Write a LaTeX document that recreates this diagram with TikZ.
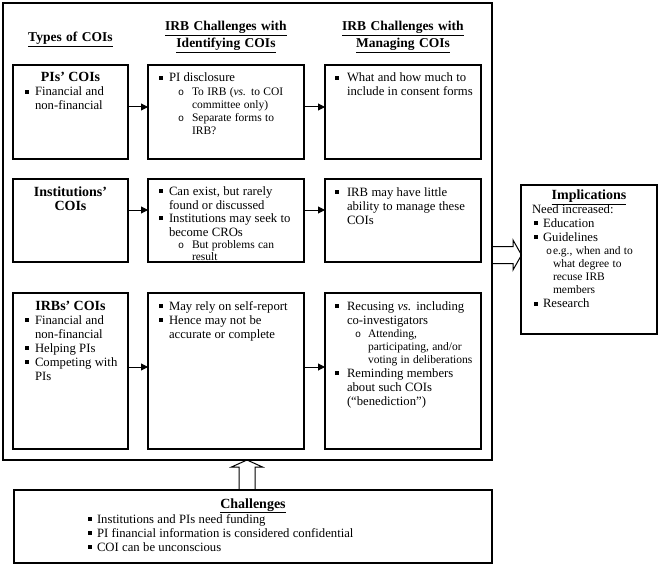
\documentclass[tikz,border=0pt]{standalone}
\usepackage{fontspec}
\setmainfont{Liberation Serif}
\newfontfamily\bulmono{Liberation Mono}
\usetikzlibrary{arrows.meta,backgrounds}
\hyphenpenalty=10000
\exhyphenpenalty=10000
\newlength\mbi \newlength\mti \newlength\mrs
\newlength\sbi \newlength\sti \newlength\srs
\newlength\mbs \newlength\sbs
\mbs=14pt \sbs=13.1pt
\newcommand\mfont{\fontsize{12.7pt}{\mbs}\selectfont}
\newcommand\sfont{\fontsize{11.5pt}{\sbs}\selectfont}
\newcommand\sqb{\rule[0.18em]{0.3em}{0.3em}}
\newcommand\cib{{\bulmono\fontsize{10pt}{10pt}\selectfont o}}
\newcommand\mitm[1]{{\mfont\hangindent=\mti\hangafter=1\rightskip=\the\mrs plus 1fil\relax\noindent\hbox to \mti{\hskip\mbi\sqb\hfil}#1\par}}
\newcommand\sitm[1]{{\sfont\hangindent=\sti\hangafter=1\rightskip=\the\srs plus 1fil\relax\noindent\hbox to \sti{\hskip\sbi\cib\hfil}#1\par}}
\newcommand\ttl[1]{{\centering\bfseries\fontsize{14pt}{14pt}\selectfont #1\par}}
\newcommand\setone{\mbi=12pt\mti=22pt\mrs=5pt}
\newcommand\settwo{\mbi=11pt\mti=21pt\mrs=6pt\sbi=30pt\sti=44pt\srs=10pt}
\newcommand\setthree{\mbi=10pt\mti=22pt\mrs=5pt\sbi=30pt\sti=43pt\srs=4pt}
\newcommand\setimpl{\mbi=13pt\mti=22pt\mrs=0pt\sbi=25pt\sti=32pt\srs=16pt}
\newcommand\setchal{\mbi=74pt\mti=83pt\mrs=0pt}
\begin{document}
\begin{tikzpicture}[x=1pt,y=-1pt,
  box/.style={draw, line width=1.2pt, inner sep=0pt, outer sep=0pt, anchor=north west},
  txt/.style={inner sep=0pt, outer sep=0pt, anchor=base west},
  hdr/.style={inner sep=0pt, anchor=base, text width=170pt, align=center, font=\bfseries\fontsize{13.5pt}{16.5pt}\selectfont},
  conn/.style={line width=1pt, -{Triangle[length=7pt,width=7pt]}},
  blk/.style={draw, fill=white, line width=1pt, line join=miter}
]
\useasboundingbox (0,0) rectangle (661,567);

\node[box, minimum width=489pt, minimum height=457pt] (outer) at (3,3) {};

\node[hdr] (h1) at (70.5,41.5) {\underline{Types of COIs}};
\node[hdr] (h2) at (226,31) {\underline{IRB Challenges with}\\\underline{Identifying COIs}};
\node[hdr] (h3) at (403,31) {\underline{IRB Challenges with}\\\underline{Managing COIs}};

% row 1
\node[box, minimum width=115pt, minimum height=94pt] (b11) at (13,65) {};
\node[box, minimum width=156pt, minimum height=94pt] (b12) at (148,65) {};
\node[box, minimum width=156pt, minimum height=94pt] (b13) at (325,65) {};
% row 2
\node[box, minimum width=115pt, minimum height=83pt] (b21) at (13,179) {};
\node[box, minimum width=156pt, minimum height=83pt] (b22) at (148,179) {};
\node[box, minimum width=156pt, minimum height=83pt] (b23) at (325,179) {};
% row 3
\node[box, minimum width=115pt, minimum height=156pt] (b31) at (13,293) {};
\node[box, minimum width=156pt, minimum height=156pt] (b32) at (148,293) {};
\node[box, minimum width=156pt, minimum height=156pt] (b33) at (325,293) {};
% side boxes
\node[box, minimum width=136pt, minimum height=149pt] (impl) at (521,185) {};
\node[box, minimum width=478pt, minimum height=73pt] (chal) at (14,490) {};

% texts
\node[txt, text width=115pt] (t11) at ([yshift=-17pt]b11.north west) {\setone
  \ttl{PIs’ COIs}\mitm{Financial and non-financial}};
\node[txt, text width=156pt] (t12) at ([yshift=-17pt]b12.north west) {\settwo
  \mitm{PI disclosure}\sitm{To IRB (\textit{vs.} to COI committee only)}\sitm{Separate forms to IRB?}};
\node[txt, text width=156pt] (t13) at ([yshift=-17pt]b13.north west) {\setthree
  \mitm{What and how much to include in consent forms}};

\node[txt, text width=115pt] (t21) at ([yshift=-17pt]b21.north west) {\setone
  \ttl{Institutions’\\COIs}};
\node[txt, text width=156pt] (t22) at ([yshift=-16.5pt]b22.north west) {\settwo\mbs=13.5pt\sbs=12pt
  \mitm{Can exist, but rarely found or discussed}\mitm{Institutions may seek to become CROs}\sitm{But problems can result}};
\node[txt, text width=156pt] (t23) at ([yshift=-17pt]b23.north west) {\setthree
  \mitm{IRB may have little ability to manage these COIs}};

\node[txt, text width=115pt] (t31) at ([yshift=-17pt]b31.north west) {\setone
  \ttl{IRBs’ COIs}\mitm{Financial and non-financial}\mitm{Helping PIs}\mitm{Competing with PIs}};
\node[txt, text width=156pt] (t32) at ([yshift=-17pt]b32.north west) {\settwo
  \mitm{May rely on self-report}\mitm{Hence may not be accurate or complete}};
\node[txt, text width=156pt] (t33) at ([yshift=-17pt]b33.north west) {\setthree
  \mitm{Recusing \textit{vs.} including co-investigators}\sitm{Attending, participating, and/or voting in deliberations}\mitm{Reminding members about such COIs (“benediction”)}};

\node[txt, text width=136pt] (ti) at ([yshift=-14.5pt]impl.north west) {\setimpl
  \ttl{\underline{Implications}}{\mfont\noindent\hskip11pt Need increased:\par}\mitm{Education}\mitm{Guidelines}\sitm{e.g., when and to what degree to recuse IRB members}\mitm{Research}};

\node[txt, text width=478pt] (tc) at ([yshift=-18pt]chal.north west) {\setchal
  \ttl{\underline{Challenges}}\mitm{Institutions and PIs need funding}\mitm{PI financial information is considered confidential}\mitm{COI can be unconscious}};

% connectors
\draw[conn] ([yshift=5pt]b11.east) -- ([yshift=5pt]b12.west);
\draw[conn] ([yshift=5pt]b12.east) -- ([yshift=5pt]b13.west);
\draw[conn] ([yshift=10.5pt]b21.east) -- ([yshift=10.5pt]b22.west);
\draw[conn] ([yshift=10.5pt]b22.east) -- ([yshift=10.5pt]b23.west);
\draw[conn] ([yshift=4pt]b31.east) -- ([yshift=4pt]b32.west);
\draw[conn] ([yshift=4pt]b32.east) -- ([yshift=4pt]b33.west);

% block arrows
\coordinate (ra) at (outer.east |- 0,255);
\coordinate (ub) at (chal.north -| 247,0);
\begin{scope}[on background layer]
\draw[blk] ([yshift=8.5pt]ra) -- ++(21,0) -- ++(0,-6.5) -- ++(8.5,15) -- ++(-8.5,15) -- ++(0,-6.5) -- ++(-21,0);
\draw[blk] ([xshift=-8pt]ub) -- ++(0,-23) -- ++(-7.5,0) -- ++(15.5,-7) -- ++(15.5,7) -- ++(-7.5,0) -- ++(0,23);
\end{scope}
\end{tikzpicture}
\end{document}
